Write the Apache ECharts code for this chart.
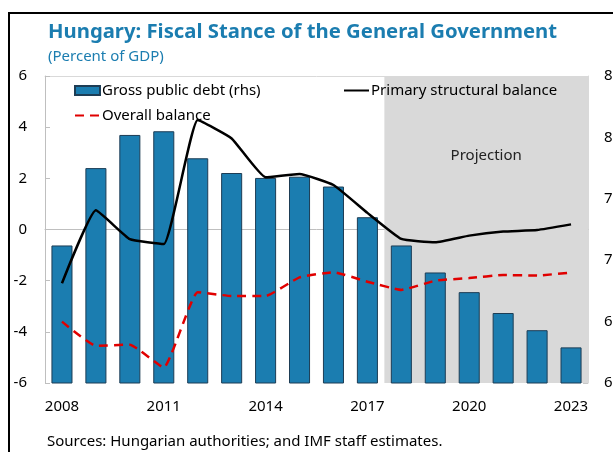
<!DOCTYPE html>
<html>
<head>
<meta charset="utf-8">
<script src="https://cdn.jsdelivr.net/npm/echarts@6/dist/echarts.min.js"></script>
<style>
  html, body { margin: 0; padding: 0; background: #fff; }
  #chart { width: 613px; height: 452px; }
</style>
</head>
<body>
<div id="chart"></div>
<script>
// Years on the horizontal axis
const years = ['2008','2009','2010','2011','2012','2013','2014','2015',
               '2016','2017','2018','2019','2020','2021','2022','2023'];
// Gross public debt, percent of GDP (right axis)
const grossDebt = [71.2, 77.5, 80.2, 80.5, 78.3, 77.1, 76.7, 76.8,
                   76.0, 73.5, 71.2, 69.0, 67.4, 65.7, 64.3, 62.9];
// Primary structural balance, percent of GDP (left axis)
const primaryStructural = [-2.1, 0.75, -0.38, -0.57, 4.28, 3.56, 2.04, 2.17,
                           1.74, 0.65, -0.37, -0.5, -0.24, -0.08, -0.02, 0.2];
// Overall balance, percent of GDP (left axis)
const overallBalance = [-3.6, -4.55, -4.5, -5.4, -2.45, -2.6, -2.6, -1.87,
                        -1.67, -2.04, -2.36, -2.0, -1.9, -1.78, -1.8, -1.68];
// Projection period, as category positions
const projectionStart = 9.5;
const projectionEnd = 15.5;

const FONT = '"Noto Sans", "Open Sans", sans-serif';
const BLUE = '#1B7DB0';

const chart = echarts.init(document.getElementById('chart'), null, { renderer: 'canvas' });

chart.setOption({
  animation: false,
  textStyle: { fontFamily: FONT },
  title: [
    {
      text: 'Hungary: Fiscal Stance of the General Government',
      left: 48, top: 22, padding: 0,
      textStyle: { fontFamily: FONT, fontSize: 20.3, fontWeight: 'bold', color: BLUE }
    },
    {
      text: '(Percent of GDP)',
      left: 48, top: 49, padding: 0,
      textStyle: { fontFamily: FONT, fontSize: 15, fontWeight: 'normal', color: BLUE }
    },
    {
      text: 'Sources: Hungarian authorities; and IMF staff estimates.',
      left: 47, top: 434, padding: 0,
      textStyle: { fontFamily: FONT, fontSize: 15, fontWeight: 'normal', color: '#000' }
    }
  ],
  legend: [
    {
      data: [
        { name: 'Gross public debt (rhs)', icon: 'rect' },
        { name: 'Overall balance', itemStyle: { opacity: 0 } }
      ],
      orient: 'vertical',
      left: 74, top: 83, padding: 0,
      itemWidth: 25, itemHeight: 9, itemGap: 10,
      textStyle: { fontFamily: FONT, fontSize: 15, color: '#000', padding: [0, 0, 0, -3] }
    },
    {
      data: [{ name: 'Primary structural balance', itemStyle: { opacity: 0 } }],
      left: 343, top: 83, padding: 0,
      itemWidth: 25, itemHeight: 9,
      textStyle: { fontFamily: FONT, fontSize: 15, color: '#000', padding: [0, 0, 0, -3] }
    }
  ],
  graphic: [
    {
      type: 'rect',
      shape: { x: 9, y: 13, width: 700, height: 500 },
      style: { fill: 'none', stroke: '#000', lineWidth: 2 },
      silent: true, z: 100
    }
  ],
  grid: {
    left: 45, right: 25, top: 76, bottom: 69,
    containLabel: false,
    outerBoundsMode: 'none'
  },
  xAxis: [
    {
      type: 'category',
      data: years,
      boundaryGap: true,
      axisLine: { show: true, lineStyle: { color: '#BFBFBF', width: 1 } },
      axisTick: { show: false },
      axisLabel: {
        interval: 2, margin: 16,
        fontFamily: FONT, fontSize: 15, color: '#000'
      },
      splitLine: { show: false }
    },
    {
      type: 'value',
      position: 'top',
      min: -0.5, max: 15.5,
      axisLine: { show: true, onZero: false, lineStyle: { color: '#D9D9D9', width: 1 } },
      axisTick: { show: false },
      axisLabel: { show: false },
      splitLine: { show: false }
    }
  ],
  yAxis: [
    {
      type: 'value',
      min: -6, max: 6, interval: 2,
      position: 'left',
      axisLine: { show: true, onZero: false, lineStyle: { color: '#BFBFBF' } },
      axisTick: { show: true, inside: true, length: 5, lineStyle: { color: '#BFBFBF' } },
      axisLabel: { margin: 18, fontFamily: FONT, fontSize: 15, color: '#000' },
      splitLine: { show: false }
    },
    {
      type: 'value',
      min: 60, max: 85, interval: 5,
      position: 'right',
      axisLine: { show: true, onZero: false, lineStyle: { color: '#D9D9D9' } },
      axisTick: { show: true, inside: true, length: 5, lineStyle: { color: '#C8C8C8' } },
      axisLabel: { margin: 16, fontFamily: FONT, fontSize: 15, color: '#000' },
      splitLine: { show: false }
    }
  ],
  series: [
    {
      // carries the shaded projection band
      name: 'projection',
      type: 'line',
      xAxisIndex: 1, yAxisIndex: 0,
      data: [[projectionStart, -6]],
      symbol: 'none',
      lineStyle: { width: 0 },
      silent: true,
      z: 1,
      markArea: {
        silent: true,
        itemStyle: { color: '#D9D9D9' },
        label: {
          show: true, position: 'insideTop', distance: 72,
          fontFamily: FONT, fontSize: 15, color: '#222'
        },
        data: [[
          { name: 'Projection', xAxis: projectionStart },
          { xAxis: projectionEnd }
        ]]
      }
    },
    {
      name: 'Gross public debt (rhs)',
      type: 'bar',
      xAxisIndex: 0, yAxisIndex: 1,
      data: grossDebt,
      barWidth: '62%',
      itemStyle: { color: BLUE, borderColor: '#1D3D55', borderWidth: 1 },
      z: 2
    },
    {
      name: 'Primary structural balance',
      type: 'line',
      xAxisIndex: 0, yAxisIndex: 0,
      data: primaryStructural,
      symbol: 'none',
      smooth: 0.12,
      lineStyle: { color: '#000', width: 2.5 },
      itemStyle: { color: '#000' },
      z: 3
    },
    {
      name: 'Overall balance',
      type: 'line',
      xAxisIndex: 0, yAxisIndex: 0,
      data: overallBalance,
      symbol: 'none',
      smooth: 0.12,
      lineStyle: { color: '#E00000', width: 2.5, type: [9, 6] },
      itemStyle: { color: '#E00000' },
      z: 4
    }
  ]
});
</script>
</body>
</html>
